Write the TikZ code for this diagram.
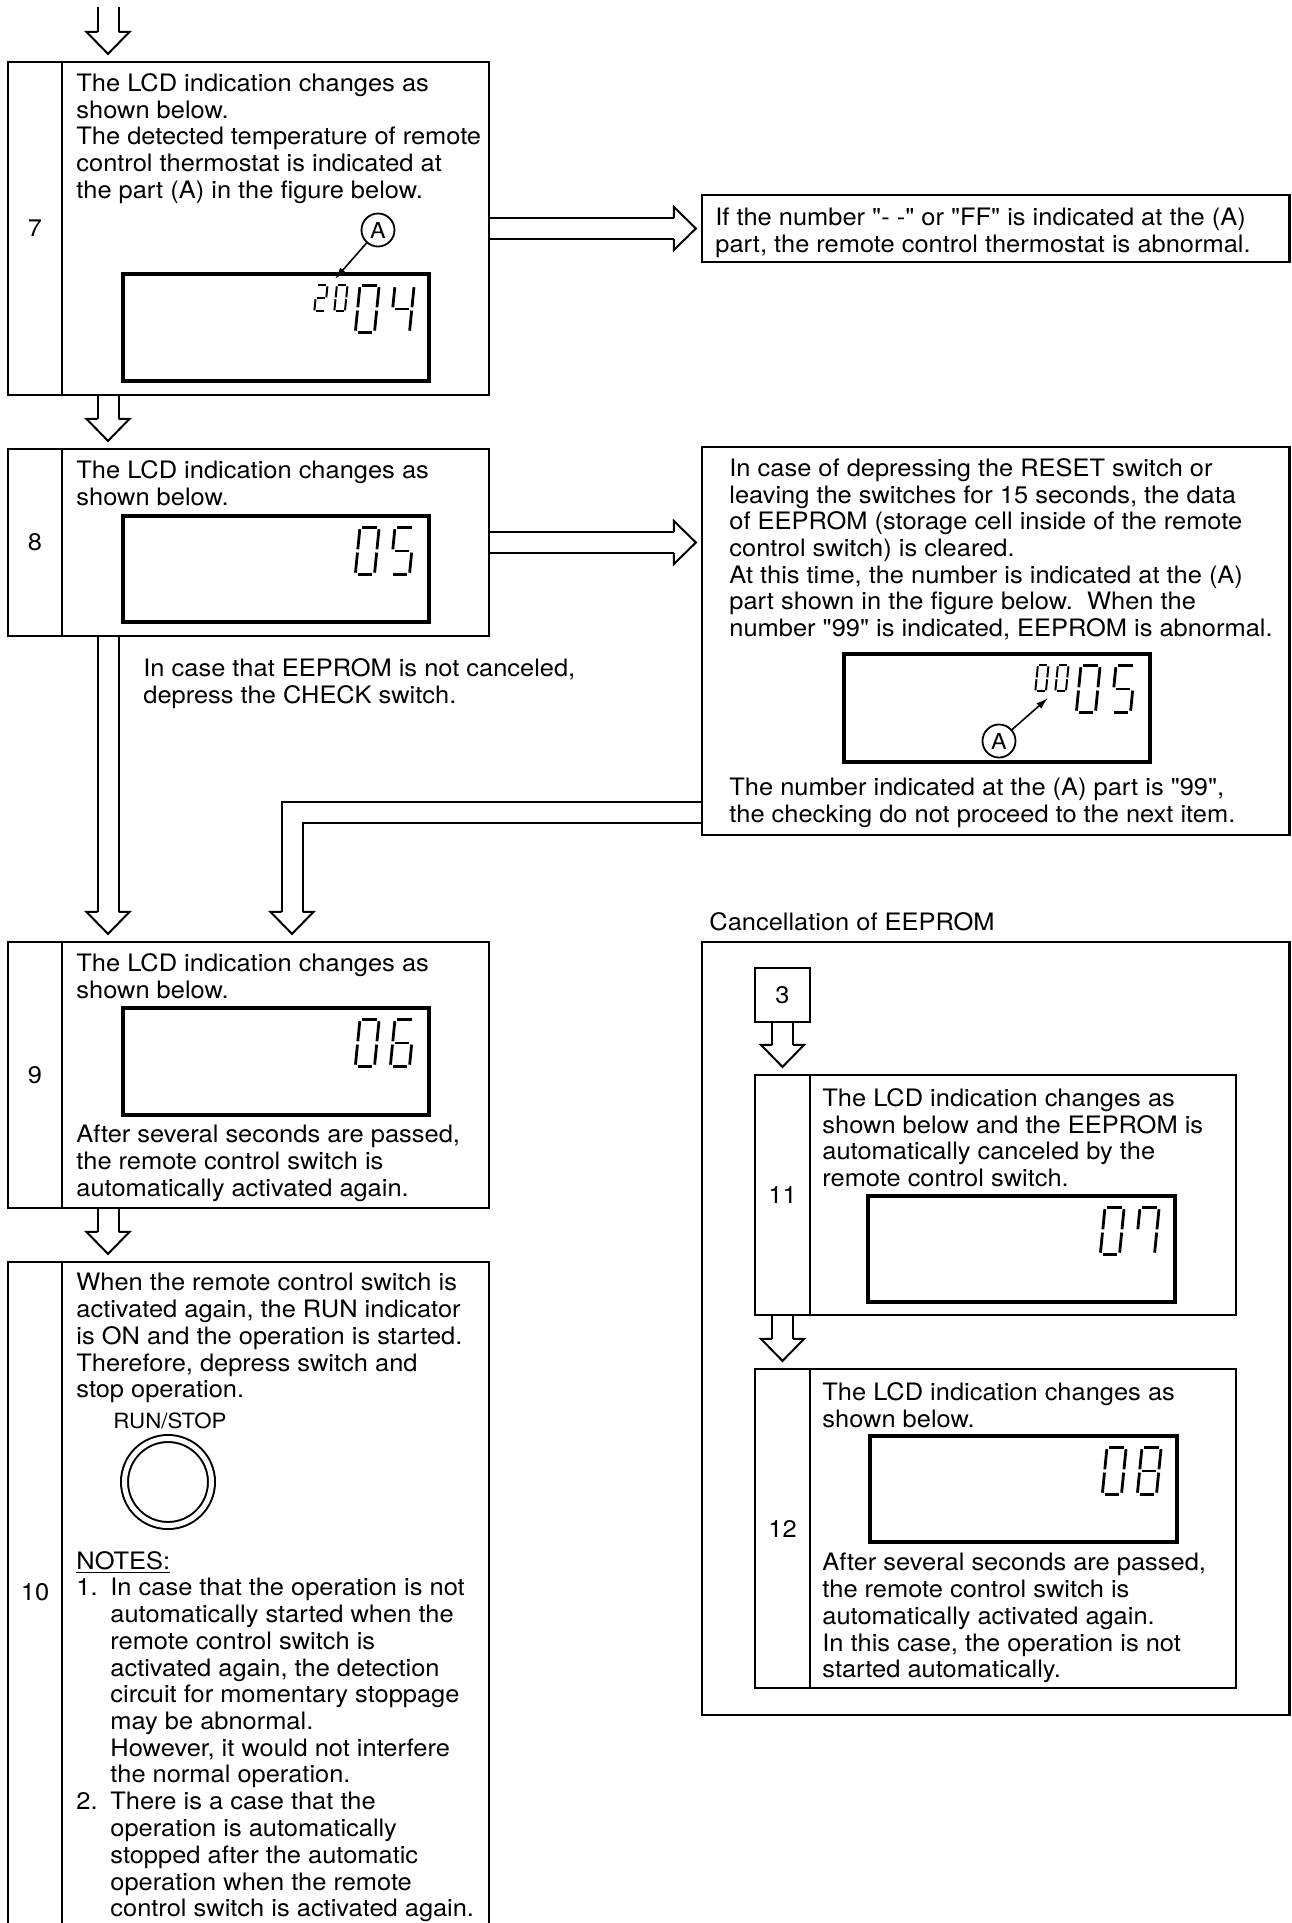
\documentclass[tikz,border=0pt]{standalone}
\usepackage{fontspec}
\setmainfont{TeX Gyre Heros}[FakeStretch=1.06,Ligatures=TeXOff]
\usepackage{tikz}
\usetikzlibrary{arrows.meta,calc,fit,backgrounds}
\tikzset{
  % Frames
  boxframe/.style={draw,line width=1.1pt,inner sep=0pt},
  lcd/.style={draw,line width=1.7pt,inner sep=0pt},
  button/.style={draw,circle,double,double distance=2.5pt,line width=1pt,
                 minimum size=43.5pt,inner sep=0pt},
  % Texts
  txt/.style={anchor=north west,inner sep=0pt,align=left,
              font=\fontsize{12}{13.35}\selectfont},
  numlbl/.style={inner sep=0pt,font=\fontsize{12}{13.35}\selectfont},
  smalltxt/.style={inner sep=0pt,font=\fontsize{10.5}{12}\selectfont},
  % Block arrows
  flowline/.style={double,double distance=9.5pt,line width=1pt},
  headline/.style={line width=1pt,line join=miter},
  % LCD details
  segline/.style={line cap=butt},
  callout/.style={draw,circle,line width=0.9pt,inner sep=0pt,
                  minimum size=16.5pt,font=\fontsize{11}{12}\selectfont},
  ptr/.style={-{Latex[length=6pt,width=3.6pt]},line width=0.8pt}
}
% seven segment digit: [width] {bottom left} {height} {segments}
\newcommand{\lcddigit}[4][1.4pt]{%
  \begin{scope}[shift={#2},xslant=0.1,xscale=0.41*#3,yscale=-#3/2]
    \coordinate (sa1) at (0.13,2);  \coordinate (sa2) at (0.87,2);
    \coordinate (sb1) at (1,1.07);  \coordinate (sb2) at (1,1.93);
    \coordinate (sc1) at (1,0.07);  \coordinate (sc2) at (1,0.93);
    \coordinate (sd1) at (0.13,0);  \coordinate (sd2) at (0.87,0);
    \coordinate (se1) at (0,0.07);  \coordinate (se2) at (0,0.93);
    \coordinate (sf1) at (0,1.07);  \coordinate (sf2) at (0,1.93);
    \coordinate (sg1) at (0.13,1);  \coordinate (sg2) at (0.87,1);
    \foreach \s in {#4} \draw[segline,line width=#1] (s\s1) -- (s\s2);
  \end{scope}}
% hollow block arrows
\newcommand{\downhead}[1]{%
  \draw[headline] ($(#1)+(-10.5,-29)$) -- ++(-11,0) -- ($(#1)+(0,-7)$)
    -- ++(21.5,-22) -- ++(-11,0);}
\newcommand{\flowdown}[2]{%
  \draw[flowline] (#1) -- ($(#2)+(0,-29)$);
  \downhead{#2}}
\newcommand{\flowright}[2]{%
  \draw[flowline] (#1) -- ($(#2)+(-27,0)$);
  \draw[headline] ($(#2)+(-27,-10.5)$) -- ++(0,-11) -- ($(#2)+(-5,0)$)
    -- ++(-22,21.5) -- ++(0,-11);}

\begin{document}
\begin{tikzpicture}[x=0.5pt,y=-0.5pt]
  \useasboundingbox (0,0) rectangle (1291,1923);
  \begin{scope}[on background layer]
    \fill[white] (0,0) rectangle (1291,1923);
  \end{scope}
  \clip (0,0) rectangle (1291,1923);

  % Step 7
  \node[boxframe,fit={(8,62) (62,395)}] (n7) {};
  \node[boxframe,fit={(62,62) (489,395)}] (b7) {};
  \node[numlbl] at (n7.center) {7};
  \node[txt] at (76,73) {The LCD indication changes as\\shown below.\\
    The detected temperature of remote\\control thermostat is indicated at\\
    the part (A) in the figure below.};
  \node[lcd,fit={(123,274) (429,381)}] (lcd7) {};
  \lcddigit[1pt]{($(lcd7.north west)+(193,39)$)}{26}{a,b,g,e,d}
  \lcddigit[1pt]{($(lcd7.north west)+(213,39)$)}{26}{a,b,c,d,e,f}
  \lcddigit{($(lcd7.north west)+(234,60)$)}{47}{a,b,c,d,e,f}
  \lcddigit{($(lcd7.north west)+(269,60)$)}{47}{f,g,b,c}
  \node[callout] (ca7) at (378,230) {A};
  \coordinate (pa7) at (335,279);
  \draw[ptr] (ca7) -- (pa7);

  % Step 8
  \node[boxframe,fit={(8,449) (62,636)}] (n8) {};
  \node[boxframe,fit={(62,449) (489,636)}] (b8) {};
  \node[numlbl] at (n8.center) {8};
  \node[txt] at (76,460) {The LCD indication changes as\\shown below.};
  \node[lcd,fit={(123,516) (429,622)}] (lcd8) {};
  \lcddigit{($(lcd8.north west)+(234,60)$)}{47}{a,b,c,d,e,f}
  \lcddigit{($(lcd8.north west)+(269,60)$)}{47}{a,f,g,c,d}
  \node[txt] at (143,658) {In case that EEPROM is not canceled,\\
    depress the CHECK switch.};

  % Step 9
  \node[boxframe,fit={(8,942) (62,1208)}] (n9) {};
  \node[boxframe,fit={(62,942) (489,1208)}] (b9) {};
  \node[numlbl] at (n9.center) {9};
  \node[txt] at (76,953) {The LCD indication changes as\\shown below.};
  \node[lcd,fit={(123,1008) (429,1115)}] (lcd9) {};
  \lcddigit{($(lcd9.north west)+(234,60)$)}{47}{a,b,c,d,e,f}
  \lcddigit{($(lcd9.north west)+(269,60)$)}{47}{a,f,g,e,d,c}
  \node[txt] at (76,1125) {After several seconds are passed,\\
    the remote control switch is\\automatically activated again.};

  % Step 10 (runs on past the page foot)
  \node[boxframe,fit={(8,1262) (62,1940)}] (n10) {};
  \node[boxframe,fit={(62,1262) (489,1940)}] (b10) {};
  \node[numlbl] at (35,1592) {10};
  \node[txt] at (76,1273) {When the remote control switch is\\
    activated again, the RUN indicator\\is ON and the operation is started.\\
    Therefore, depress switch and\\stop operation.};
  \node[smalltxt] at (170,1421) {RUN/STOP};
  \node[button] (runbtn) at (168,1482) {};
  \node[txt] at (76,1551) {\underline{NOTES:}};
  \node[txt] at (76,1578) {1.};
  \node[txt] at (110,1578) {In case that the operation is not\\
    automatically started when the\\remote control switch is\\
    activated again, the detection\\circuit for momentary stoppage\\
    may be abnormal.\\However, it would not interfere\\the normal operation.};
  \node[txt] at (76,1792) {2.};
  \node[txt] at (110,1792) {There is a case that the\\operation is automatically\\
    stopped after the automatic\\operation when the remote\\
    control switch is activated again.};

  % Notes on the right
  \node[boxframe,fit={(702,195) (1289.5,262)}] (nt7) {};
  \node[txt] at (715,208) {If the number "- -" or "FF" is indicated at the (A)\\
    part, the remote control thermostat is abnormal.};
  \node[boxframe,fit={(702,447) (1289.5,835)}] (rb8) {};
  \node[txt] at (729,458) {In case of depressing the RESET switch or\\
    leaving the switches for 15 seconds, the data\\
    of EEPROM (storage cell inside of the remote\\
    control switch) is cleared.\\
    At this time, the number is indicated at the (A)\\
    part shown in the figure below.\ \ When the\\
    number "99" is indicated, EEPROM is abnormal.};
  \node[lcd,fit={(844,654) (1150,762)}] (lcdee) {};
  \lcddigit[1pt]{($(lcdee.north west)+(193,39)$)}{26}{a,b,c,d,e,f}
  \lcddigit[1pt]{($(lcdee.north west)+(213,39)$)}{26}{a,b,c,d,e,f}
  \lcddigit{($(lcdee.north west)+(234,60)$)}{47}{a,b,c,d,e,f}
  \lcddigit{($(lcdee.north west)+(269,60)$)}{47}{a,f,g,c,d}
  \node[callout] (caee) at (999,741) {A};
  \coordinate (paee) at (1048,698);
  \draw[ptr] (caee) -- (paee);
  \node[txt] at (729,778) {The number indicated at the (A) part is "99",\\
    the checking do not proceed to the next item.};

  % Cancellation of EEPROM
  \node[txt] at (709,912) {Cancellation of EEPROM};
  \node[boxframe,fit={(702,942) (1289.5,1715)}] (cancel) {};
  \node[boxframe,fit={(755,968) (810,1022)}] (c3) {};
  \node[numlbl] at (c3.center) {3};
  \node[boxframe,fit={(755,1075) (810,1315)}] (n11) {};
  \node[boxframe,fit={(810,1075) (1236,1315)}] (b11) {};
  \node[numlbl] at (n11.center) {11};
  \node[txt] at (822,1088) {The LCD indication changes as\\
    shown below and the EEPROM is\\automatically canceled by the\\
    remote control switch.};
  \node[lcd,fit={(868,1196) (1175,1302)}] (lcd11) {};
  \lcddigit{($(lcd11.north west)+(234,60)$)}{47}{a,b,c,d,e,f}
  \lcddigit{($(lcd11.north west)+(269,60)$)}{47}{a,b,c,f}
  \node[boxframe,fit={(755,1369) (810,1688)}] (n12) {};
  \node[boxframe,fit={(810,1369) (1236,1688)}] (b12) {};
  \node[numlbl] at (n12.center) {12};
  \node[txt] at (822,1382) {The LCD indication changes as\\shown below.};
  \node[lcd,fit={(870,1436) (1177,1542)}] (lcd12) {};
  \lcddigit{($(lcd12.north west)+(234,60)$)}{47}{a,b,c,d,e,f}
  \lcddigit{($(lcd12.north west)+(269,60)$)}{47}{a,b,c,d,e,f,g}
  \node[txt] at (822,1553) {After several seconds are passed,\\
    the remote control switch is\\automatically activated again.\\
    In this case, the operation is not\\started automatically.};

  % Flow arrows, under the frames
  \begin{scope}[on background layer]
    \coordinate (entry) at (108,7);
    \flowdown{entry}{b7.north -| entry}
    \flowdown{b7.south -| entry}{b8.north -| entry}
    \flowdown{b8.south -| entry}{b9.north -| entry}
    \flowdown{b9.south -| entry}{b10.north -| entry}
    \flowright{b7.east}{nt7.west}
    \flowright{b8.east}{rb8.west |- b8.east}
    \coordinate (back) at (292,812);
    \draw[flowline] (rb8.west |- back) -| ($(b9.north -| back)+(0,-29)$);
    \downhead{b9.north -| back}
    \flowdown{c3.south}{n11.north}
    \flowdown{n11.south}{n12.north}
  \end{scope}
\end{tikzpicture}
\end{document}
